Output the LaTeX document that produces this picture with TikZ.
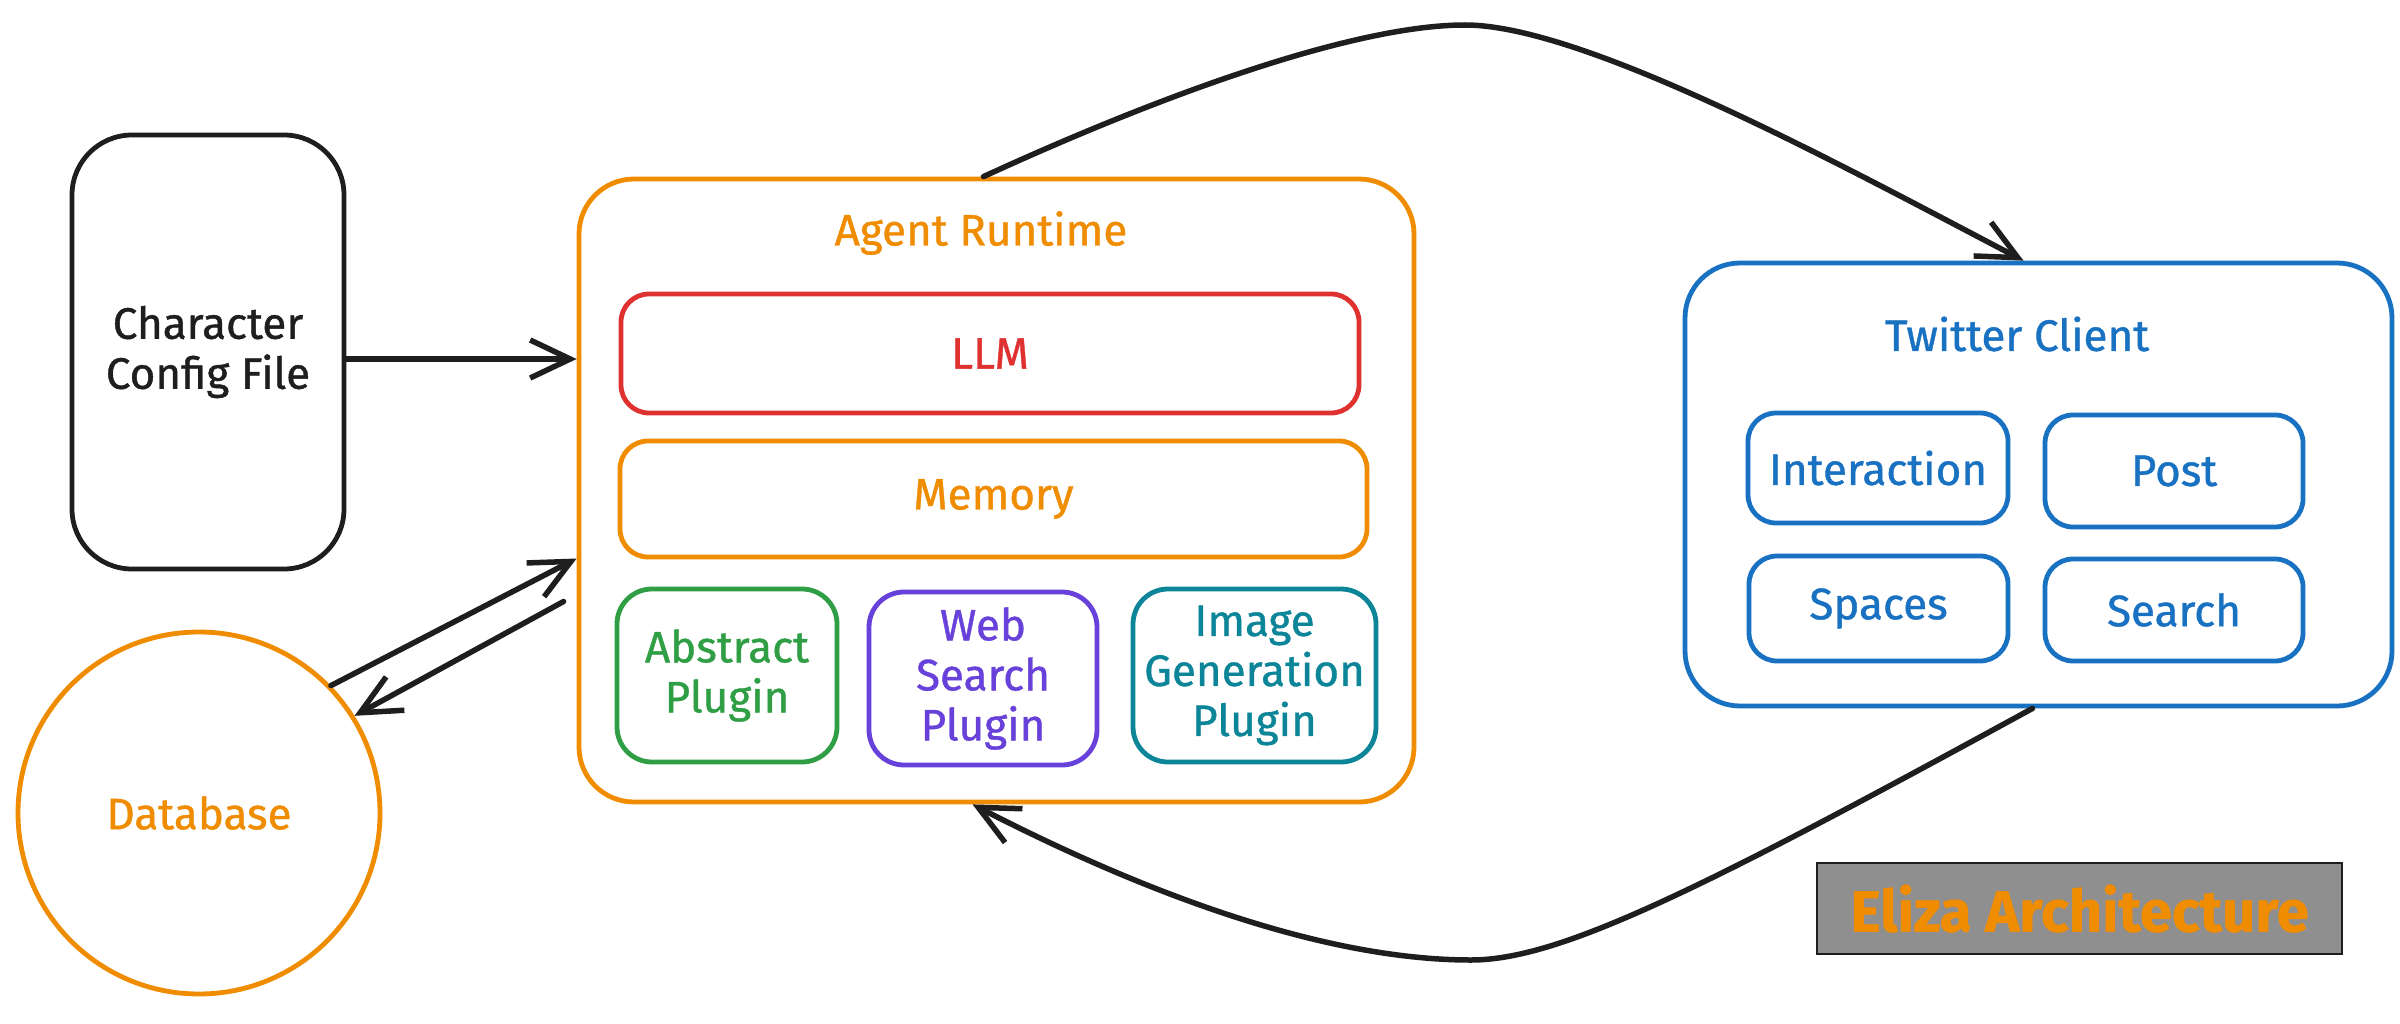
\documentclass[tikz,border=0pt]{standalone}
\usepackage{fontspec}
\setmainfont{Fira Sans}[FakeBold=0.9]
\usetikzlibrary{arrows.meta}
\definecolor{ink}{HTML}{1E1E1E}
\definecolor{exorange}{HTML}{F08C00}
\definecolor{exred}{HTML}{E03131}
\definecolor{exgreen}{HTML}{2F9E44}
\definecolor{expurple}{HTML}{6741D9}
\definecolor{exteal}{HTML}{0C8599}
\definecolor{exblue}{HTML}{1971C2}
\definecolor{exgray}{HTML}{8F8F8F}
\begin{document}
\begin{tikzpicture}[x=1pt,y=-1pt,
  box/.style={draw=#1, text=#1, line width=4.8pt, inner sep=0pt, align=center,
    font=\fontsize{44}{50}\selectfont},
  label/.style={text=#1, inner sep=0pt, align=center, font=\fontsize{44}{50}\selectfont},
  conn/.style={draw=ink, line width=5.5pt, line cap=round,
    -{Straight Barb[length=40pt,width=38pt]}}]
\path[fill=white] (0,0) rectangle (2400,1024);
\useasboundingbox (0,0) rectangle (2400,1024);

% Character config file
\node[box=ink, rounded corners=60pt, minimum width=272pt, minimum height=434pt]
  (char) at (208,352) {Character\\Config File};

% Agent runtime
\node[box=exorange, rounded corners=55pt, minimum width=835pt, minimum height=623pt]
  (agent) at (996.5,490.5) {};
\node[label=exorange] (agenttitle) at (981,233) {Agent Runtime};
\node[box=exred, rounded corners=28pt, minimum width=738pt, minimum height=119pt]
  (llm) at (990,353.5) {LLM};
\node[box=exorange, rounded corners=28pt, minimum width=747pt, minimum height=116pt]
  (memory) at (993.5,499) {Memory};
\node[box=exgreen, rounded corners=35pt, minimum width=220pt, minimum height=173pt]
  (abstract) at (727,675.5) {Abstract\\Plugin};
\node[box=expurple, rounded corners=35pt, minimum width=228pt, minimum height=173pt]
  (web) at (983,678.5) {Web\\Search\\Plugin};
\node[box=exteal, rounded corners=35pt, minimum width=243pt, minimum height=173pt]
  (image) at (1254.5,675.5) {Image\\Generation\\Plugin};

% Database
\node[box=exorange, circle, minimum size=362pt] (db) at (199,813) {Database};

% Twitter client
\node[box=exblue, rounded corners=55pt, minimum width=707pt, minimum height=443pt]
  (twitter) at (2038.5,484.5) {};
\node[label=exblue] (twtitle) at (2017,334) {Twitter Client};
\node[box=exblue, rounded corners=28pt, minimum width=260pt, minimum height=110pt]
  (interaction) at (1878,468) {Interaction};
\node[box=exblue, rounded corners=28pt, minimum width=258pt, minimum height=112pt]
  (post) at (2174,471) {Post};
\node[box=exblue, rounded corners=28pt, minimum width=259pt, minimum height=105pt]
  (spaces) at (1878.5,608.5) {Spaces};
\node[box=exblue, rounded corners=28pt, minimum width=258pt, minimum height=102pt]
  (search) at (2174,610) {Search};

% Title box
\node[draw=ink, fill=exgray, line width=2.5pt, text=exorange, inner sep=0pt,
  minimum width=525pt, minimum height=91pt, font=\fontsize{58}{64}\selectfont\bfseries]
  (eliza) at (2079.5,908.5) {Eliza Architecture};

% Connectors
\draw[conn] ([yshift=-7pt]char.east) -- ([yshift=-7pt]char.east -| agent.west);
\draw[conn] (db.44) -- ([yshift=-68pt]agent.west);
\draw[conn] ([xshift=-13pt,yshift=-111pt]agent.west) -- (db.32);
\coordinate (toppeak) at (1465,25);
\coordinate (botlow) at (1471,960);
\draw[conn] ([xshift=-13pt]agent.north) .. controls (1150,100) and (1350,25) .. (toppeak)
  .. controls (1586,25) and (1850,170) .. ([xshift=-15pt]twitter.north);
\draw[conn] ([xshift=-6pt]twitter.south) .. controls (1700,890) and (1560,960) .. (botlow)
  .. controls (1300,960) and (1100,870) .. ([xshift=-24pt]agent.south);
\end{tikzpicture}
\end{document}
